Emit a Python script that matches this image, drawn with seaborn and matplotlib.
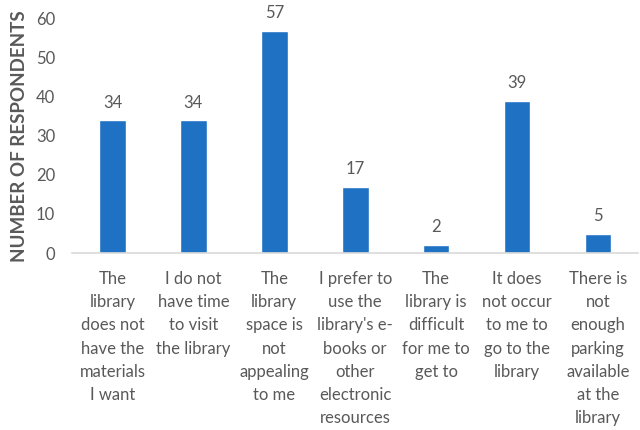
import matplotlib
matplotlib.use("Agg")
import matplotlib.pyplot as plt
import seaborn as sns
import pandas as pd

# reasons for not visiting the library
categories = [
    "The\nlibrary\ndoes not\nhave the\nmaterials\nI want",
    "I do not\nhave time\nto visit\nthe library",
    "The\nlibrary\nspace is\nnot\nappealing\nto me",
    "I prefer to\nuse the\nlibrary's e-\nbooks or\nother\nelectronic\nresources",
    "The\nlibrary is\ndifficult\nfor me to\nget to",
    "It does\nnot occur\nto me to\ngo to the\nlibrary",
    "There is\nnot\nenough\nparking\navailable\nat the\nlibrary",
]
respondents = [34, 34, 57, 17, 2, 39, 5]
y_ticks = [0, 10, 20, 30, 40, 50, 60]

df = pd.DataFrame({"reason": categories, "count": respondents})

sns.set_style("white")
plt.rcParams["font.family"] = ["Lato", "DejaVu Sans"]
grey = "#595959"

fig = plt.figure(figsize=(6.4, 4.3), dpi=100)
ax = fig.add_axes([0.1125, 0.4116, 0.885, 0.5444])

sns.barplot(data=df, x="reason", y="count", color="#1F71C4", saturation=1,
            width=0.33, ax=ax)

for i, v in enumerate(respondents):
    ax.text(i, v + 2.5, str(v), ha="center", va="bottom", fontsize=12, color=grey)

ax.set_ylim(0, 60)
ax.set_yticks(y_ticks)
ax.set_xlim(-0.5, len(categories) - 0.5)
ax.tick_params(axis="y", length=0, labelsize=12, colors=grey, pad=12)
ax.tick_params(axis="x", length=0, pad=13)
ax.set_xticks(range(len(categories)))
ax.set_xticklabels(categories, fontsize=12, color=grey, linespacing=1.55, va="top")
ax.set_xlabel("")
ax.set_ylabel("NUMBER OF RESPONDENTS", fontsize=13.5, fontweight="bold", color=grey, labelpad=6)

for side in ["top", "right", "left"]:
    ax.spines[side].set_visible(False)
ax.spines["bottom"].set_color("#D9D9D9")
ax.spines["bottom"].set_linewidth(1.2)

fig.savefig("out.png", dpi=100)
